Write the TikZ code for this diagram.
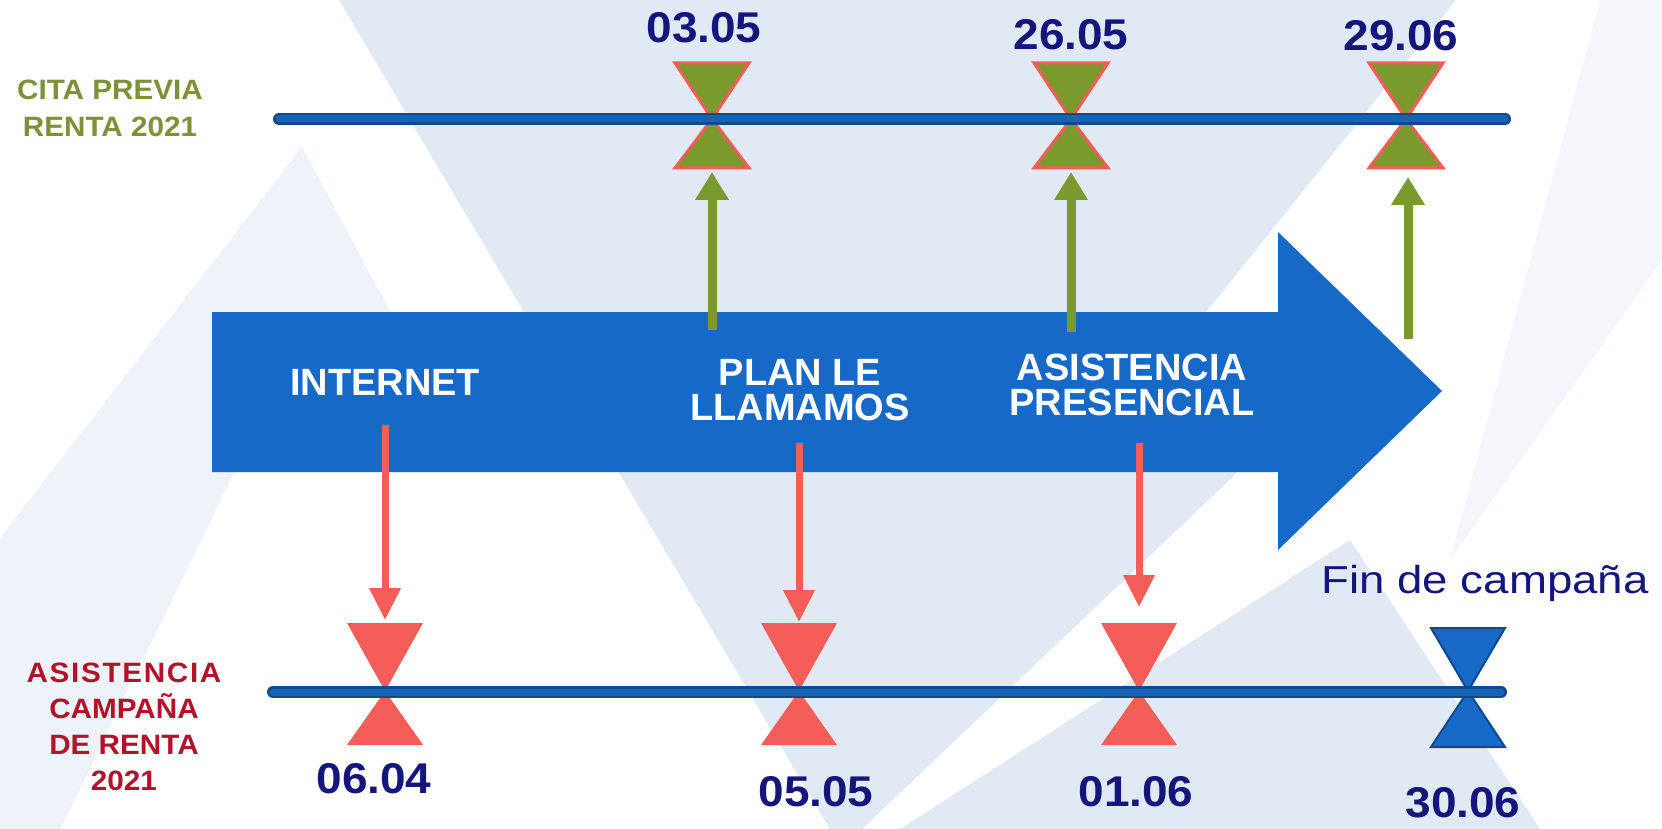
\documentclass[tikz,border=0pt]{standalone}
\usepackage{fontspec}
\setmainfont{Liberation Sans}
\newfontfamily\datefont[FakeStretch=1.07]{Liberation Sans}
\newfontfamily\finfont[FakeStretch=1.17]{Liberation Sans}
\newfontfamily\sidefont[FakeStretch=1.06]{Liberation Sans}
\usetikzlibrary{arrows.meta}

\definecolor{arrowblue}{HTML}{1769C8}
\definecolor{lineblue}{HTML}{1463B4}
\definecolor{lineedge}{HTML}{0B4A8C}
\definecolor{citagreen}{HTML}{7B9A2D}
\definecolor{markred}{HTML}{F45D58}
\definecolor{datenavy}{HTML}{14167C}
\definecolor{sidered}{HTML}{B3122B}
\definecolor{sidegreen}{HTML}{7D9236}
\definecolor{palebg}{HTML}{E1E9F4}
\definecolor{faintbg}{HTML}{EEF3F9}
\definecolor{veryfaintbg}{HTML}{F3F6FB}

\begin{document}
\begin{tikzpicture}[x=1pt, y=-1pt,
    datelabel/.style={font=\datefont\bfseries\fontsize{43}{46}\selectfont, text=datenavy, inner sep=0pt},
    arrowlabel/.style={font=\bfseries\fontsize{38}{35}\selectfont, text=white, align=center, inner sep=0pt},
    sidelabel/.style={font=\sidefont\bfseries\fontsize{28}{37}\selectfont, align=center, inner sep=0pt},
    uparrow/.style={draw=citagreen, line width=9pt, -{Triangle[width=32pt,length=28pt]}},
    downarrow/.style={draw=markred, line width=7pt, -{Triangle[width=30pt,length=32pt]}},
    citamark/.style={fill=citagreen, draw=markred, line width=3pt},
    asismark/.style={fill=markred},
    finmark/.style={fill=arrowblue, draw=lineedge, line width=2pt},
    timeline/.style={draw=lineedge, line width=2.5pt, double=lineblue, double distance=7pt, line cap=round}]

    % Page and the faint logo behind everything
    \useasboundingbox (0,0) rectangle (1662,829);
    \fill[white] (0,0) rectangle (1662,829);
    \fill[faintbg] (302,147) -- (400,330) -- (233,475) -- (60,829) -- (0,829) -- (0,538) -- cycle;
    \fill[veryfaintbg] (1600,0) -- (1662,0) -- (1662,260) -- (1450,560) -- cycle;
    \fill[palebg] (339,0) -- (1456,0) -- (1200,320) -- (1240,470) -- (862,829) -- (830,829) -- cycle;
    \fill[palebg] (1350,540) -- (1540,829) -- (900,829) -- cycle;

    % Big arrow of the campaign
    \fill[arrowblue] (212,312) -- (1278,312) -- (1278,232) -- (1442,391)
        -- (1278,550) -- (1278,472) -- (212,472) -- cycle;
    \node[arrowlabel] (internet) at (385,382) {INTERNET};
    \node[arrowlabel] (llamamos) at (800,390) {PLAN LE\\LLAMAMOS};
    \node[arrowlabel] (presencial) at (1132,385) {ASISTENCIA\\PRESENCIAL};

    % Arrow ends
    \coordinate (g1) at (712,330);
    \coordinate (g2) at (1071,332);
    \coordinate (g3) at (1408,339);
    \coordinate (cp1) at (712,172);
    \coordinate (cp2) at (1071,172);
    \coordinate (cp3) at (1408,177);
    \coordinate (r1) at (385,425);
    \coordinate (r2) at (799,443);
    \coordinate (r3) at (1139,443);
    \coordinate (ac1) at (385,620);
    \coordinate (ac2) at (799,622);
    \coordinate (ac3) at (1139,607);

    % Connectors from the arrow to the timelines
    \draw[uparrow] (g1) -- (cp1);
    \draw[uparrow] (g2) -- (cp2);
    \draw[uparrow] (g3) -- (cp3);
    \draw[downarrow] (r1) -- (ac1);
    \draw[downarrow] (r2) -- (ac2);
    \draw[downarrow] (r3) -- (ac3);

    % Hourglass markers
    \foreach \x in {712,1071,1406} {
        \filldraw[citamark] (\x-37,63) -- (\x+37,63) -- (\x,119) -- cycle;
        \filldraw[citamark] (\x,119) -- (\x+37,168) -- (\x-37,168) -- cycle;
    }
    \foreach \x in {385,799,1139} {
        \fill[asismark] (\x-38,623) -- (\x+38,623) -- (\x,691) -- cycle;
        \fill[asismark] (\x,691) -- (\x+38,745) -- (\x-38,745) -- cycle;
    }
    \filldraw[finmark] (1431,628) -- (1505,628) -- (1468,691) -- cycle;
    \filldraw[finmark] (1468,691) -- (1505,747) -- (1431,747) -- cycle;

    % Timelines
    \coordinate (citaW) at (279,119);
    \coordinate (citaE) at (1505,119);
    \coordinate (asisW) at (273,692);
    \coordinate (asisE) at (1501,692);
    \draw[timeline] (citaW) -- (citaE);
    \draw[timeline] (asisW) -- (asisE);

    % Dates
    \node[datelabel] (d0305) at (704,28) {03.05};
    \node[datelabel] (d2605) at (1071,35) {26.05};
    \node[datelabel] (d2906) at (1401,36) {29.06};
    \node[datelabel] (d0604) at (374,779) {06.04};
    \node[datelabel] (d0505) at (816,792) {05.05};
    \node[datelabel] (d0106) at (1136,792) {01.06};
    \node[datelabel] (d3006) at (1463,803) {30.06};
    \node[font=\finfont\fontsize{39}{42}\selectfont, text=datenavy, inner sep=0pt] (fin) at (1485,583) {Fin de campaña};

    % Side titles
    \node[sidelabel, text=sidegreen] (cita) at (110,108) {CITA PREVIA\\RENTA 2021};
    \node[sidelabel, text=sidered, font=\sidefont\bfseries\fontsize{28}{36}\selectfont] (asis) at (124,727)
        {{\addfontfeature{LetterSpace=6}ASISTENCIA}\\CAMPAÑA\\DE RENTA\\2021};
\end{tikzpicture}
\end{document}
